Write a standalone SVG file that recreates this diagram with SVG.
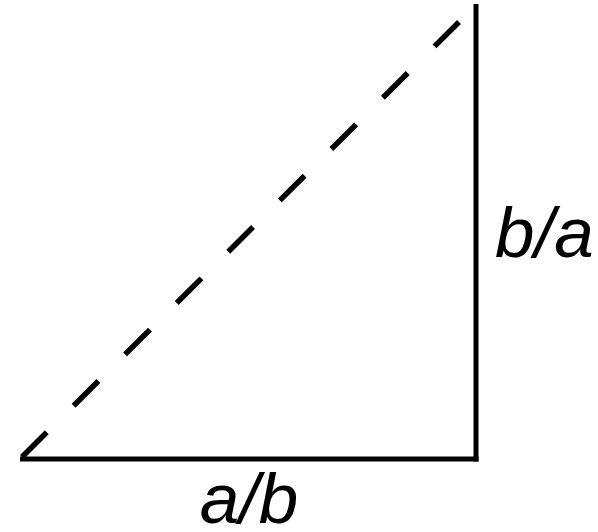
<svg xmlns="http://www.w3.org/2000/svg" width="598" height="532" viewBox="0 0 598 532">
<style>
.edge{stroke:#000;stroke-width:5;fill:none}
.dash{stroke-dasharray:35 37.75;stroke-width:5.5}
.lbl{font-family:"Liberation Sans",Arial,sans-serif;font-style:italic;font-size:71px;fill:#000}
</style>
<rect width="598" height="532" fill="#fff"/>
<g id="connectors">
<line class="edge" x1="20" y1="459" x2="478.5" y2="459"/>
<line class="edge" x1="476" y1="4" x2="476" y2="461.5"/>
<line class="edge dash" x1="22" y1="457" x2="459" y2="22"/>
</g>
<g id="label-ba"><text class="lbl" x="495" y="257">b/a</text></g>
<g id="label-ab"><text class="lbl" x="249" y="523" text-anchor="middle">a/b</text></g>
</svg>
